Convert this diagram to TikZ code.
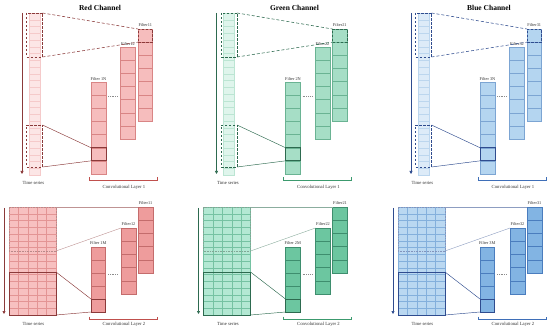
\documentclass[tikz,border=0pt]{standalone}
\usepackage{fontspec}
\setmainfont{Liberation Serif}
\usetikzlibrary{arrows.meta}

% Red
\definecolor{Rdark}{HTML}{8B3A3A}
\definecolor{Rts}{HTML}{FCE6E6}
\definecolor{Rtsl}{HTML}{F5CACA}
\definecolor{Rflt}{HTML}{F6BDBD}
\definecolor{Rfltl}{HTML}{D98585}
\definecolor{Rgrid}{HTML}{F7C0C0}
\definecolor{Rgridl}{HTML}{E39494}
\definecolor{Rfltb}{HTML}{EE9C9C}
\definecolor{Rfltbl}{HTML}{C46C6C}
\definecolor{Rbrc}{HTML}{C0504D}
% Green
\definecolor{Gdark}{HTML}{2D6A4F}
\definecolor{Gts}{HTML}{DFF5EC}
\definecolor{Gtsl}{HTML}{BCE5D3}
\definecolor{Gflt}{HTML}{A6DEC6}
\definecolor{Gfltl}{HTML}{6AB393}
\definecolor{Ggrid}{HTML}{B3E8D3}
\definecolor{Ggridl}{HTML}{75C2A2}
\definecolor{Gfltb}{HTML}{6CC6A0}
\definecolor{Gfltbl}{HTML}{3E8E6E}
\definecolor{Gbrc}{HTML}{3C9A6E}
% Blue
\definecolor{Bdark}{HTML}{2F4C8F}
\definecolor{Bts}{HTML}{DDEBF8}
\definecolor{Btsl}{HTML}{BCD6EE}
\definecolor{Bflt}{HTML}{B4D5F0}
\definecolor{Bfltl}{HTML}{7CA5D3}
\definecolor{Bgrid}{HTML}{BAD8F1}
\definecolor{Bgridl}{HTML}{84B0DC}
\definecolor{Bfltb}{HTML}{82B4E3}
\definecolor{Bfltbl}{HTML}{4A7DBE}
\definecolor{Bbrc}{HTML}{3F6FB8}

\tikzset{
  box/.style={inner sep=0pt, outer sep=0pt, anchor=north west, line width=0.4pt},
  title/.style={font=\fontsize{7.5}{9}\selectfont\bfseries, inner sep=0pt},
  lab/.style={font=\fontsize{4.7}{5.5}\selectfont, inner sep=0pt, text=black!80},
  flab/.style={font=\fontsize{4.3}{5}\selectfont, inner sep=0pt, text=black!80},
  arr/.style={draw=cdark, line width=0.6pt, -{Triangle[width=3pt,length=3pt]}},
  dbox/.style={box, draw=cdark, line width=0.6pt, dash pattern=on 2.5pt off 1.5pt},
  hbox/.style={box, draw=cdark, line width=0.75pt},
  conn/.style={draw=cdark, line width=0.45pt},
  conndash/.style={draw=cdark, line width=0.55pt, dash pattern=on 3pt off 2pt},
  connlight/.style={draw=cdark!55, line width=0.4pt},
  dotline/.style={draw=black!45, line width=0.4pt, dash pattern=on 1pt off 0.8pt},
  brc/.style={draw=cbrc, line width=0.5pt},
}

\newcommand{\TopPanel}[4]{%
\begin{scope}[xshift=#2pt]
\colorlet{cdark}{#1dark}\colorlet{cts}{#1ts}\colorlet{ctsl}{#1tsl}%
\colorlet{cflt}{#1flt}\colorlet{cfltl}{#1fltl}\colorlet{cbrc}{#1brc}%
\node[title] (#1-title) at (100,7.5) {#3 Channel};
% time axis arrow
\coordinate (#1-a0) at (22,13);
\coordinate (#1-a1) at (22,174);
\draw[arr] (#1-a0) -- (#1-a1);
% time series column
\node[box, fill=cts, draw=ctsl, minimum width=11pt, minimum height=162pt] (#1-ts) at (29,13) {};
\foreach \k in {1,...,23} \draw[draw=ctsl, line width=0.3pt] (29,{13+\k*6.75}) -- (40,{13+\k*6.75});
\node[dbox, minimum width=16pt, minimum height=44pt] (#1-tsA) at (26.5,13) {};
\node[dbox, minimum width=16pt, minimum height=42pt] (#1-tsB) at (26.5,125) {};
% filter 1
\node[box, fill=cflt, draw=cfltl, minimum width=14.5pt, minimum height=92pt] (#1-f1) at (138,29) {};
\foreach \k in {1,...,6} \draw[draw=cfltl, line width=0.35pt] (138,{29+\k*13.143}) -- (152.5,{29+\k*13.143});
\node[dbox, minimum width=14.5pt, minimum height=13.143pt] (#1-c1) at (138,29) {};
% filter 2
\node[box, fill=cflt, draw=cfltl, minimum width=15pt, minimum height=92pt] (#1-f2) at (120.5,47) {};
\foreach \k in {1,...,6} \draw[draw=cfltl, line width=0.35pt] (120.5,{47+\k*13.143}) -- (135.5,{47+\k*13.143});
% filter N
\node[box, fill=cflt, draw=cfltl, minimum width=15pt, minimum height=92pt] (#1-fN) at (91,82) {};
\foreach \k in {1,...,6} \draw[draw=cfltl, line width=0.35pt] (91,{82+\k*13.143}) -- (106,{82+\k*13.143});
\node[hbox, minimum width=15pt, minimum height=13.143pt] (#1-hN) at (91,147.71) {};
% labels
\node[flab] (#1-l1) at (145.25,25.5) {Filter#41};
\node[flab] (#1-l2) at (128,44) {Filter#42};
\node[flab] (#1-lN) at (98.5,79) {Filter #4N};
% dots
\coordinate (#1-d0) at (108,96);
\coordinate (#1-d1) at (118,96);
\draw[dotline] (#1-d0) -- (#1-d1);
% connectors
\draw[conndash] (#1-tsA.north east) -- (#1-c1.north west);
\draw[conndash] (#1-tsA.south east) -- (#1-c1.south west);
\draw[conn] (#1-tsB.north east) -- (#1-hN.north west);
\draw[conn] (#1-tsB.south east) -- (#1-hN.south west);
% bottom texts
\node[lab] (#1-tsl) at (33.5,182.5) {Time series};
\coordinate (#1-b0) at (89,177.5);
\coordinate (#1-b1) at (157,177.5);
\draw[brc] (#1-b0) -- ++(0,3) -| (#1-b1);
\node[lab] (#1-cl) at (124,187) {Convolutional Layer 1};
\end{scope}}

\newcommand{\BotPanel}[3]{%
\begin{scope}[xshift=#2pt]
\colorlet{cdark}{#1dark}\colorlet{cgrid}{#1grid}\colorlet{cgridl}{#1gridl}%
\colorlet{cflt}{#1fltb}\colorlet{cfltl}{#1fltbl}\colorlet{cbrc}{#1brc}%
\coordinate (#1-A0) at (4,208);
\coordinate (#1-A1) at (4,314);
\draw[arr] (#1-A0) -- (#1-A1);
% grid
\node[box, fill=cgrid, draw=cgridl, minimum width=47pt, minimum height=108pt] (#1-g) at (9,207) {};
\foreach \k in {1,...,4} \draw[draw=cgridl, line width=0.35pt] ({9+\k*9.4},207) -- ({9+\k*9.4},315);
\foreach \k in {1,...,15} \draw[draw=cgridl, line width=0.35pt] (9,{207+\k*6.75}) -- (56,{207+\k*6.75});
\node[box, draw=cdark!60, line width=0.5pt, dash pattern=on 0.8pt off 0.8pt, minimum width=47pt, minimum height=44pt] (#1-gA) at (9,207) {};
\node[hbox, line width=0.9pt, minimum width=47pt, minimum height=43pt] (#1-gB) at (9,272) {};
% filters
\node[box, fill=cflt, draw=cfltl, minimum width=15pt, minimum height=66pt] (#1-g1) at (138,207) {};
\foreach \k in {1,...,4} \draw[draw=cfltl, line width=0.4pt] (138,{207+\k*13.2}) -- (153,{207+\k*13.2});
\node[box, fill=cflt, draw=cfltl, minimum width=15pt, minimum height=66pt] (#1-g2) at (121,228) {};
\foreach \k in {1,...,4} \draw[draw=cfltl, line width=0.4pt] (121,{228+\k*13.2}) -- (136,{228+\k*13.2});
\node[box, fill=cflt, draw=cfltl, minimum width=14.5pt, minimum height=65pt] (#1-gM) at (91,247) {};
\foreach \k in {1,...,4} \draw[draw=cfltl, line width=0.4pt] (91,{247+\k*13}) -- (105.5,{247+\k*13});
\node[hbox, minimum width=14.5pt, minimum height=13pt] (#1-hM) at (91,299) {};
% labels
\node[flab] (#1-m1) at (145.5,203.5) {Filter#31};
\node[flab] (#1-m2) at (128.5,224.5) {Filter#32};
\node[flab] (#1-mM) at (98.25,243.5) {Filter #3M};
% dots
\coordinate (#1-e0) at (108,274);
\coordinate (#1-e1) at (118,274);
\draw[dotline] (#1-e0) -- (#1-e1);
% connectors
\draw[connlight] (#1-gA.north east) -- (#1-g1.north west);
\draw[connlight] (#1-gA.south east) -- (#1-g2.north west);
\draw[conn] (#1-gB.north east) -- (#1-hM.north west);
\draw[conn] (#1-gB.south east) -- (#1-hM.south west);
% bottom texts
\node[lab] (#1-tsb) at (33.5,323.5) {Time series};
\coordinate (#1-B0) at (89,316.5);
\coordinate (#1-B1) at (157,316.5);
\draw[brc] (#1-B0) -- ++(0,3) -| (#1-B1);
\node[lab] (#1-cb) at (124,324.5) {Convolutional Layer 2};
\end{scope}}

\begin{document}
\begin{tikzpicture}[x=1pt,y=-1pt]
\useasboundingbox[fill=white] (0,0) rectangle (550,329);
\TopPanel{R}{0}{Red}{1}
\TopPanel{G}{194.5}{Green}{2}
\TopPanel{B}{389}{Blue}{3}
\BotPanel{R}{0}{1}
\BotPanel{G}{194.5}{2}
\BotPanel{B}{389}{3}
\end{tikzpicture}
\end{document}
